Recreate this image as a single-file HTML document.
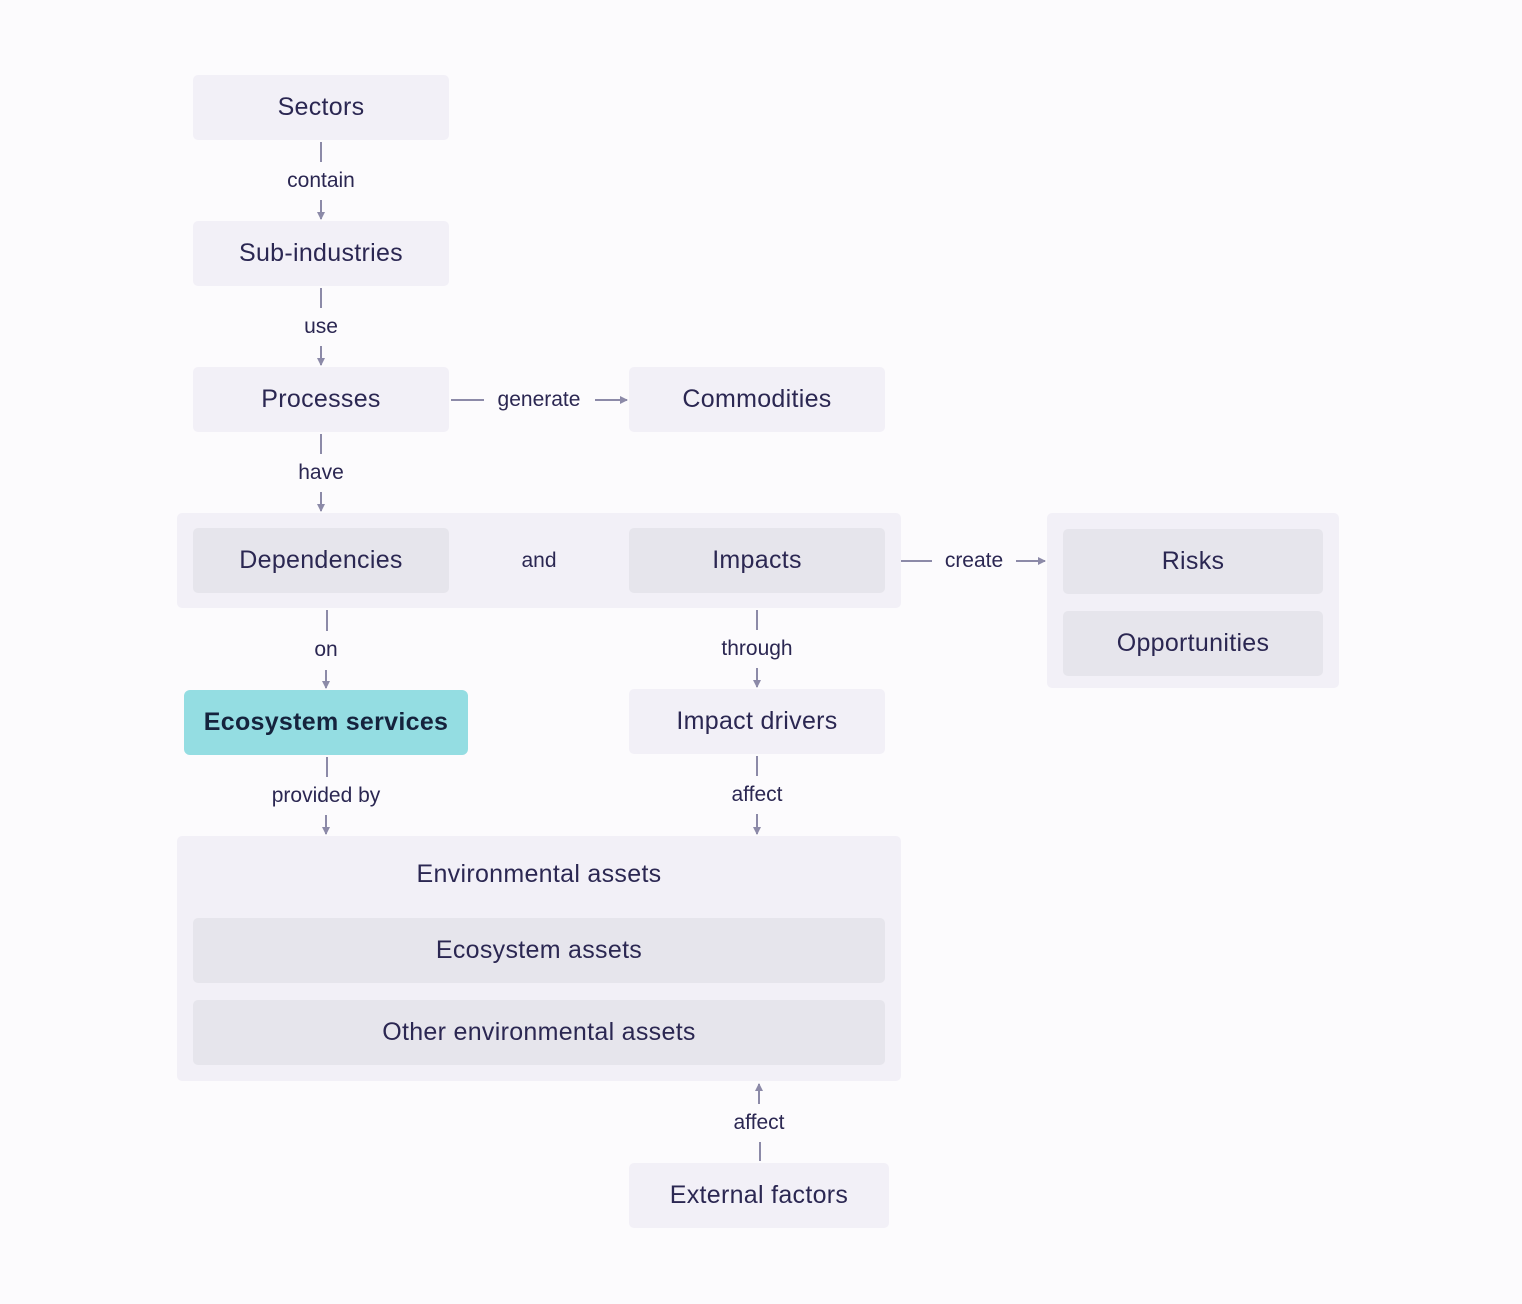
<!DOCTYPE html>
<html><head><meta charset="utf-8"><style>
body{margin:0;background:#fcfbfd;width:1522px;height:1304px;position:relative;overflow:hidden;font-family:"Liberation Sans",sans-serif;color:#2b2752}
.b{position:absolute;background:#f2f0f7;border-radius:5px;display:flex;align-items:center;justify-content:center;font-size:25px;letter-spacing:0.3px}
.i{background:#e6e5ec}
.l{position:absolute;font-size:21px;transform:translate(-50%,-50%);white-space:nowrap;background:#fcfbfd;padding:0 4px}
svg{position:absolute;left:0;top:0}
</style></head><body>
<div class="b" style="left:177px;top:513px;width:724px;height:95px"></div>
<div class="b" style="left:1047px;top:513px;width:292px;height:175px"></div>
<div class="b" style="left:177px;top:836px;width:724px;height:245px;align-items:flex-start;padding-top:24px;box-sizing:border-box">Environmental assets</div>
<div class="b" style="left:193px;top:75px;width:256px;height:65px">Sectors</div>
<div class="b" style="left:193px;top:221px;width:256px;height:65px">Sub-industries</div>
<div class="b" style="left:193px;top:367px;width:256px;height:65px">Processes</div>
<div class="b" style="left:629px;top:367px;width:256px;height:65px">Commodities</div>
<div class="b i" style="left:193px;top:528px;width:256px;height:65px">Dependencies</div>
<div class="b i" style="left:629px;top:528px;width:256px;height:65px">Impacts</div>
<div class="l" style="left:539px;top:561px;background:none">and</div>
<div class="b i" style="left:1063px;top:529px;width:260px;height:65px">Risks</div>
<div class="b i" style="left:1063px;top:611px;width:260px;height:65px">Opportunities</div>
<div class="b" style="left:184px;top:690px;width:284px;height:65px;background:#94dde2;font-weight:bold;color:#15233d;border-radius:6px">Ecosystem services</div>
<div class="b" style="left:629px;top:689px;width:256px;height:65px">Impact drivers</div>
<div class="b i" style="left:193px;top:918px;width:692px;height:65px">Ecosystem assets</div>
<div class="b i" style="left:193px;top:1000px;width:692px;height:65px">Other environmental assets</div>
<div class="b" style="left:629px;top:1163px;width:260px;height:65px">External factors</div>
<svg width="1522" height="1304">
<defs><marker id="a" markerWidth="8" markerHeight="8" refX="7" refY="4" orient="auto" markerUnits="userSpaceOnUse"><path d="M0,0L8,4L0,8z" fill="#8c8aa8"/></marker></defs>
<g stroke="#8c8aa8" stroke-width="2" fill="none">
<path d="M321 142V162M321 200V219" marker-end="url(#a)"/>
<path d="M321 288V308M321 346V365" marker-end="url(#a)"/>
<path d="M321 434V454M321 492V511" marker-end="url(#a)"/>
<path d="M451 400H484M595 400H627" marker-end="url(#a)"/>
<path d="M901 561H932M1016 561H1045" marker-end="url(#a)"/>
<path d="M327 610V631M326 670V688" marker-end="url(#a)"/>
<path d="M757 610V630M757 668V687" marker-end="url(#a)"/>
<path d="M327 757V777M326 815V834" marker-end="url(#a)"/>
<path d="M757 756V776M757 814V834" marker-end="url(#a)"/>
<path d="M760 1161V1142M759 1104V1084" marker-end="url(#a)"/>
</g></svg>
<div class="l" style="left:321px;top:181px">contain</div>
<div class="l" style="left:321px;top:327px">use</div>
<div class="l" style="left:321px;top:473px">have</div>
<div class="l" style="left:539px;top:400px">generate</div>
<div class="l" style="left:974px;top:561px">create</div>
<div class="l" style="left:326px;top:650px">on</div>
<div class="l" style="left:757px;top:649px">through</div>
<div class="l" style="left:326px;top:796px">provided by</div>
<div class="l" style="left:757px;top:795px">affect</div>
<div class="l" style="left:759px;top:1123px">affect</div>
</body></html>
